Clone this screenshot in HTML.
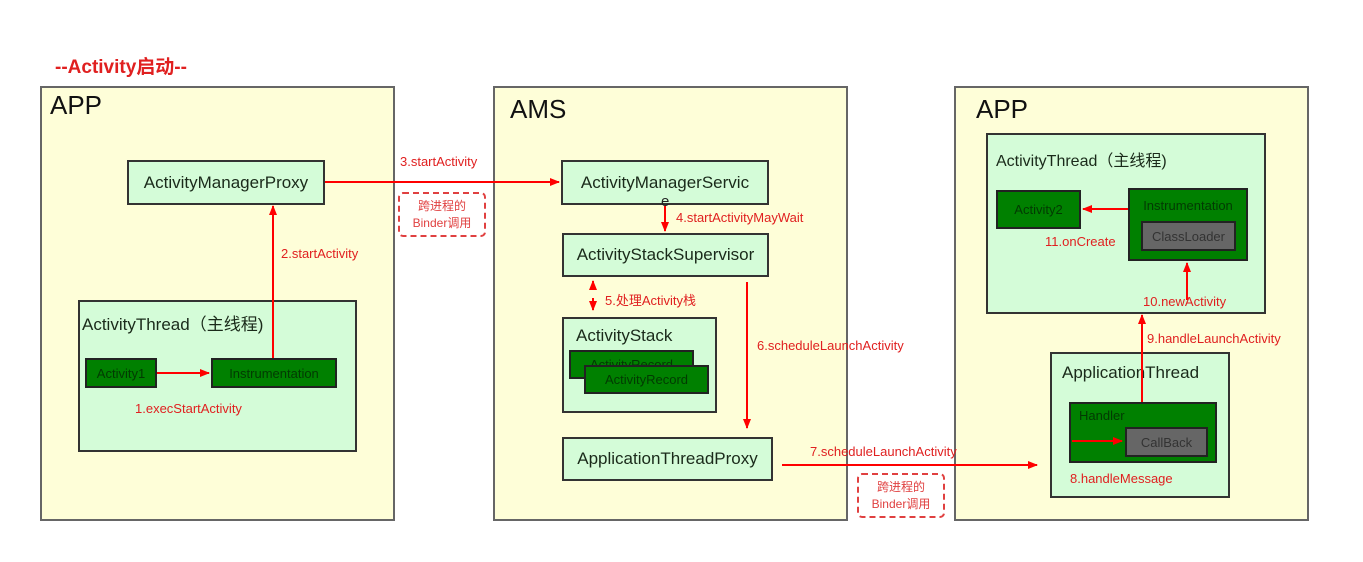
<!DOCTYPE html>
<html><head><meta charset="utf-8"><style>
body{margin:0;width:1363px;height:562px;background:#fff;position:relative;overflow:hidden;font-family:"Liberation Sans","Noto Sans CJK SC",sans-serif}
.b{position:absolute;box-sizing:border-box}
.app{background:#fefed8;border:2px solid #666}
.lg{background:#d4fcd8;border:2px solid #333;color:#1a2a1a;font-size:17px}
.dg{background:#008000;border:2px solid #222;color:#023a02;font-size:13px;text-align:center}
.gr{background:#666;border:2px solid #222;color:#333;font-size:13px;text-align:center}
.c{display:flex;align-items:center;justify-content:center}
.t{position:absolute;white-space:nowrap}
.r{color:#e02020;font-size:13px}
.big{font-size:26px;color:#111}
.dash{position:absolute;box-sizing:border-box;border:2px dashed #e04040;border-radius:5px;color:#e04040;font-size:12px;text-align:center;line-height:17px;padding-top:4px}
svg{position:absolute;left:0;top:0}
</style></head><body>
<div class="t" style="left:55px;top:52px;color:#e02020;font-size:19px;font-weight:600">--Activity启动--</div>

<div class="b app" style="left:40px;top:86px;width:355px;height:435px"></div>
<div class="b app" style="left:493px;top:86px;width:355px;height:435px"></div>
<div class="b app" style="left:954px;top:86px;width:355px;height:435px"></div>
<div class="t big" style="left:50px;top:90px">APP</div>
<div class="t big" style="left:510px;top:94px">AMS</div>
<div class="t big" style="left:976px;top:94px">APP</div>

<div class="b lg c" style="left:127px;top:160px;width:198px;height:45px">ActivityManagerProxy</div>
<div class="b lg" style="left:78px;top:300px;width:279px;height:152px;padding:8px 0 0 2px">ActivityThread（主线程)</div>
<div class="b dg c" style="left:85px;top:358px;width:72px;height:30px">Activity1</div>
<div class="b dg c" style="left:211px;top:358px;width:126px;height:30px">Instrumentation</div>
<div class="t r" style="left:135px;top:401px">1.execStartActivity</div>
<div class="t r" style="left:281px;top:246px">2.startActivity</div>
<div class="t r" style="left:400px;top:154px">3.startActivity</div>
<div class="dash" style="left:398px;top:192px;width:88px;height:45px">跨进程的<br>Binder调用</div>

<div class="b lg c" style="left:561px;top:160px;width:208px;height:45px">ActivityManagerServic</div>
<div class="t" style="left:661px;top:193px;font-size:15px;color:#222">e</div>
<div class="t r" style="left:676px;top:210px">4.startActivityMayWait</div>
<div class="b lg c" style="left:562px;top:233px;width:207px;height:44px">ActivityStackSupervisor</div>
<div class="t r" style="left:605px;top:290px">5.处理Activity栈</div>
<div class="b lg" style="left:562px;top:317px;width:155px;height:96px;padding:7px 0 0 12px">ActivityStack</div>
<div class="b dg c" style="left:569px;top:350px;width:125px;height:29px;overflow:hidden">ActivityRecord</div>
<div class="b dg c" style="left:584px;top:365px;width:125px;height:29px">ActivityRecord</div>
<div class="t r" style="left:757px;top:338px">6.scheduleLaunchActivity</div>
<div class="b lg c" style="left:562px;top:437px;width:211px;height:44px">ApplicationThreadProxy</div>
<div class="t r" style="left:810px;top:444px">7.scheduleLaunchActivity</div>
<div class="dash" style="left:857px;top:473px;width:88px;height:45px">跨进程的<br>Binder调用</div>

<div class="b lg" style="left:986px;top:133px;width:280px;height:181px;padding:12px 0 0 8px;font-size:16px">ActivityThread（主线程)</div>
<div class="b dg c" style="left:996px;top:190px;width:85px;height:39px">Activity2</div>
<div class="b dg" style="left:1128px;top:188px;width:120px;height:73px;padding-top:8px">Instrumentation</div>
<div class="b gr c" style="left:1141px;top:221px;width:95px;height:30px">ClassLoader</div>
<div class="t r" style="left:1045px;top:234px">11.onCreate</div>
<div class="t r" style="left:1143px;top:294px">10.newActivity</div>
<div class="t r" style="left:1147px;top:331px">9.handleLaunchActivity</div>
<div class="b lg" style="left:1050px;top:352px;width:180px;height:146px;padding:9px 0 0 10px">ApplicationThread</div>
<div class="b dg" style="left:1069px;top:402px;width:148px;height:61px;text-align:left;padding:4px 0 0 8px">Handler</div>
<div class="b gr c" style="left:1125px;top:427px;width:83px;height:30px">CallBack</div>
<div class="t r" style="left:1070px;top:471px">8.handleMessage</div>

<svg width="1363" height="562">
<defs><marker id="a" markerWidth="10" markerHeight="8" refX="9" refY="4" orient="auto" markerUnits="userSpaceOnUse"><path d="M0,0L10,4L0,8z" fill="#f00"/></marker></defs>
<g stroke="#f00" stroke-width="2" fill="none">
<line x1="157" y1="373" x2="209" y2="373" marker-end="url(#a)"/>
<line x1="273" y1="358" x2="273" y2="206" marker-end="url(#a)"/>
<line x1="325" y1="182" x2="559" y2="182" marker-end="url(#a)"/>
<line x1="665" y1="206" x2="665" y2="231" marker-end="url(#a)"/>
<line x1="593" y1="290" x2="593" y2="281" marker-end="url(#a)"/>
<line x1="593" y1="298" x2="593" y2="310" marker-end="url(#a)"/>
<line x1="747" y1="282" x2="747" y2="428" marker-end="url(#a)"/>
<line x1="782" y1="465" x2="1037" y2="465" marker-end="url(#a)"/>
<line x1="1072" y1="441" x2="1122" y2="441" marker-end="url(#a)"/>
<line x1="1142" y1="402" x2="1142" y2="315" marker-end="url(#a)"/>
<line x1="1187" y1="300" x2="1187" y2="263" marker-end="url(#a)"/>
<line x1="1128" y1="209" x2="1083" y2="209" marker-end="url(#a)"/>
</g></svg>
</body></html>
